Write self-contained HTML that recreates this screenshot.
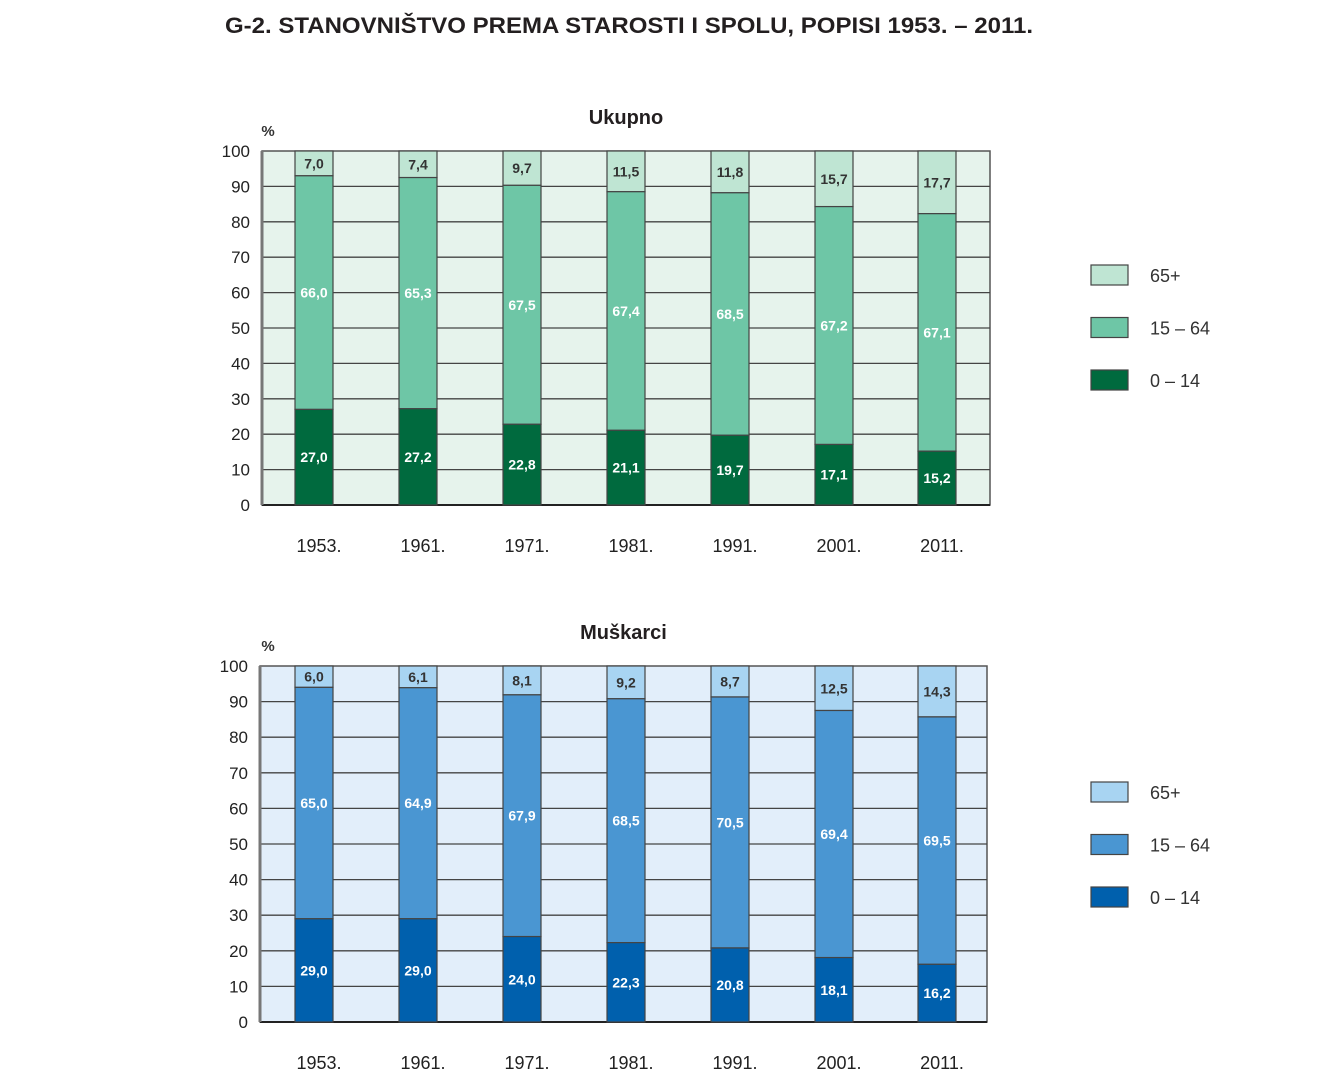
<!DOCTYPE html>
<html><head><meta charset="utf-8">
<style>
html,body{margin:0;padding:0;background:#fff;}
svg{display:block;font-family:"Liberation Sans",sans-serif;}
</style></head>
<body>
<svg id="s" width="1336" height="1080" viewBox="0 0 1336 1080" xmlns="http://www.w3.org/2000/svg">
<text x="225" y="33" font-size="22" font-weight="bold" fill="#231f20" textLength="808" lengthAdjust="spacingAndGlyphs">G-2.  STANOVNIŠTVO PREMA STAROSTI I SPOLU, POPISI 1953. – 2011.</text>
</svg>
<script>
var s=document.getElementById('s');var NS='http://www.w3.org/2000/svg';
function el(t,a,txt){var e=document.createElementNS(NS,t);for(var k in a)e.setAttribute(k,a[k]);if(txt!==undefined)e.textContent=txt;s.appendChild(e);return e;}
var years=['1953.','1961.','1971.','1981.','1991.','2001.','2011.'];
var centers=[314,418,522,626,730,834,937];
function chart(o){
 var L=o.L,R=o.R,T=o.T,B=o.B,h=B-T;
 el('text',{x:(L+R)/2,y:T-27,'font-size':20,'font-weight':'bold','text-anchor':'middle',fill:'#231f20'},o.title);
 el('text',{x:268,y:T-15,'font-size':15,'font-weight':'bold','text-anchor':'middle',fill:'#333'},'%');
 el('rect',{x:L,y:T,width:R-L,height:h,fill:o.bg,stroke:'#555','stroke-width':1.5});
 for(var v=0;v<=100;v+=10){var y=B-v/100*h;
  if(v>0&&v<100)el('line',{x1:L,x2:R,y1:y,y2:y,stroke:'#444','stroke-width':1.3});
  el('text',{x:L-12,y:y+6,'font-size':17,'text-anchor':'end',fill:'#222'},v);}
 el('line',{x1:L,x2:R,y1:B,y2:B,stroke:'#222','stroke-width':2});
 el('line',{x1:L,x2:L,y1:T,y2:B,stroke:'#777','stroke-width':3});
 for(var i=0;i<7;i++){var d=o.data[i],cx=centers[i],x=cx-19,w=38;
  var a=d[0],b=d[1],c=100-a-b;
  var y0=B-a/100*h,y1=B-(a+b)/100*h;
  el('rect',{x:x,y:T,width:w,height:y1-T,fill:o.c[0],stroke:'#444','stroke-width':1.2});
  el('rect',{x:x,y:y1,width:w,height:y0-y1,fill:o.c[1],stroke:'#444','stroke-width':1.2});
  el('rect',{x:x,y:y0,width:w,height:B-y0,fill:o.c[2],stroke:'#444','stroke-width':1.2});
  var f=function(n){return n.toFixed(1).replace('.',',');};
  el('text',{x:cx,y:(T+y1)/2+5,'font-size':14,'font-weight':'bold','text-anchor':'middle',fill:'#333'},f(d[2]));
  el('text',{x:cx,y:(y1+y0)/2+5,'font-size':14,'font-weight':'bold','text-anchor':'middle',fill:'#fff'},f(b));
  el('text',{x:cx,y:(y0+B)/2+5,'font-size':14,'font-weight':'bold','text-anchor':'middle',fill:'#fff'},f(a));
  el('text',{x:cx+5,y:B+47,'font-size':18,'text-anchor':'middle',fill:'#222'},years[i]);
 }
 var labs=['65+','15 – 64','0 – 14'];
 for(var j=0;j<3;j++){var ly=o.ly+j*52.5;
  el('rect',{x:1091,y:ly,width:37,height:20,fill:o.c[j],stroke:'#444','stroke-width':1.2});
  el('text',{x:1150,y:ly+17,'font-size':18,fill:'#333'},labs[j]);}
}
chart({title:'Ukupno',L:262,R:990,T:151,B:505,bg:'#e6f3ec',c:['#bfe5d3','#6ec6a6','#006a3e'],ly:265,
 data:[[27.0,66.0,7.0],[27.2,65.3,7.4],[22.8,67.5,9.7],[21.1,67.4,11.5],[19.7,68.5,11.8],[17.1,67.2,15.7],[15.2,67.1,17.7]]});
chart({title:'Muškarci',L:260,R:987,T:666,B:1022,bg:'#e2eefa',c:['#a8d4f2','#4a96d2','#0060ad'],ly:782,
 data:[[29.0,65.0,6.0],[29.0,64.9,6.1],[24.0,67.9,8.1],[22.3,68.5,9.2],[20.8,70.5,8.7],[18.1,69.4,12.5],[16.2,69.5,14.3]]});
</script>
</body></html>
